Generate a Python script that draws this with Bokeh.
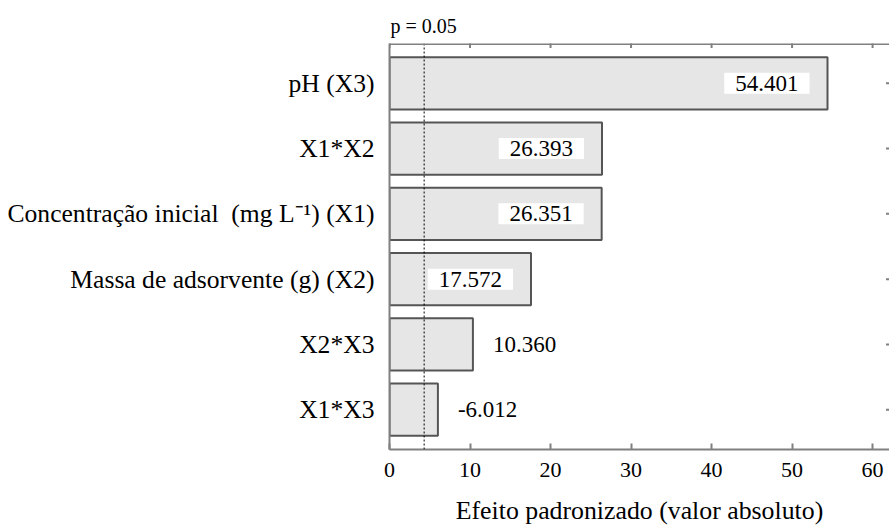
import math
from bokeh.plotting import figure
from bokeh.models import FixedTicker, Span, ColumnDataSource, Range1d
from bokeh.embed import file_html
from bokeh.resources import INLINE

# ---- data ----
factors = [
    "pH (X3)",
    "X1*X2",
    "Concentração inicial\u00a0 (mg L⁻¹) (X1)",
    "Massa de adsorvente (g) (X2)",
    "X2*X3",
    "X1*X3",
]
effects = [54.401, 26.393, 26.351, 17.572, 10.360, -6.012]
critical_value = 4.303
p_label = "p = 0.05"
x_ticks = [0, 10, 20, 30, 40, 50, 60]
x_label = "Efeito padronizado (valor absoluto)"

FONT = "Liberation Serif"
FRAME = "#808080"
X_END = 62.1
Y_START, Y_END = -0.61, 5.61

n = len(factors)
ypos = [n - 1 - i for i in range(n)]
absval = [abs(v) for v in effects]
texts = [f"{v:.3f}" for v in effects]
inside = [a >= 15 for a in absval]
src = ColumnDataSource(dict(
    y=ypos, v=absval, t=texts,
    align=["right" if i else "left" for i in inside],
    xoff=[-18 if i else 9 for i in inside],
))

p = figure(width=889, height=527, x_range=Range1d(0, X_END), y_range=Range1d(Y_START, Y_END),
           output_backend="svg", toolbar_location=None, title=p_label,
           min_border_left=389, min_border_right=0, min_border_top=43, min_border_bottom=78)
p.background_fill_color = "white"
p.border_fill_color = "white"
p.grid.visible = False
p.outline_line_color = None

p.title.text_font = FONT
p.title.text_font_size = "20px"
p.title.text_font_style = "normal"
p.title.text_color = "black"
p.title.align = "left"
p.title.offset = 1
p.title.standoff = 14

p.hbar(y="y", left=0, right="v", height=0.8, source=src,
       fill_color="#e6e6e6", line_color="#555555", line_width=2)

p.text(x="v", y="y", text="t", source=src, text_align="align", x_offset="xoff",
       text_baseline="middle", text_font={"value": FONT}, text_font_size="23px",
       text_color="black", background_fill_color="white",
       padding=dict(left=11, right=11, top=3, bottom=3))

p.add_layout(Span(location=critical_value, dimension="height", line_color="black",
                  line_width=1, line_dash="2 2"))
# top frame line (no right-hand frame line, as in the reference)
p.add_layout(Span(location=Y_END, dimension="width", line_color=FRAME, line_width=3))

# inner ticks on the top edge and on the right edge (clipped to the frame)
p.scatter(x=x_ticks, y=[Y_END] * len(x_ticks), marker="dash", angle=math.pi / 2,
          size=9, line_color=FRAME, line_width=2)
p.scatter(x=[X_END] * n, y=ypos, marker="dash", size=7, line_color=FRAME, line_width=2)

# bottom axis
xa = p.xaxis[0]
xa.ticker = FixedTicker(ticks=x_ticks, minor_ticks=[])
xa.axis_line_color = FRAME
xa.axis_line_width = 2
xa.major_tick_in = 6
xa.major_tick_out = 0
xa.major_tick_line_color = FRAME
xa.major_tick_line_width = 2
xa.minor_tick_line_color = None
xa.major_label_text_font = FONT
xa.major_label_text_font_size = "22px"
xa.major_label_text_color = "black"
xa.major_label_standoff = 13
xa.axis_label = x_label
xa.axis_label_text_font = FONT
xa.axis_label_text_font_size = "25.8px"
xa.axis_label_text_font_style = "normal"
xa.axis_label_text_color = "black"
xa.axis_label_standoff = 16

# left axis
ya = p.yaxis[0]
ya.ticker = FixedTicker(ticks=ypos, minor_ticks=[])
ya.major_label_overrides = {y: f for y, f in zip(ypos, factors)}
ya.axis_line_color = FRAME
ya.axis_line_width = 2
ya.major_tick_line_color = None
ya.minor_tick_line_color = None
ya.major_label_text_font = FONT
ya.major_label_text_font_size = "25.6px"
ya.major_label_text_color = "black"
ya.major_label_standoff = 9

open("out.html", "w").write(file_html(p, INLINE))
